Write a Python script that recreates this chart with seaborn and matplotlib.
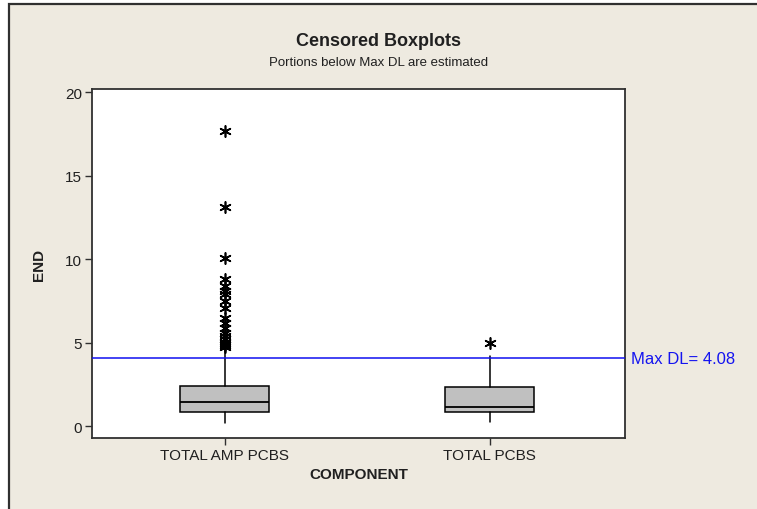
import matplotlib
matplotlib.use("Agg")
import matplotlib.pyplot as plt
import matplotlib.patches as mpatches
import matplotlib.transforms as mtransforms
import seaborn as sns
import pandas as pd

# ---- data ----
categories = ["TOTAL AMP PCBS", "TOTAL PCBS"]
q1 = [0.84, 0.84]
medians = [1.43, 1.13]
q3 = [2.39, 2.33]
whisker_low = [0.22, 0.24]
whisker_high = [4.65, 4.20]
outliers_amp = [17.7, 13.15, 10.05, 8.8, 8.4, 8.1, 7.9, 7.5, 7.1, 6.5, 6.2,
                5.9, 5.6, 5.4, 5.2, 5.0, 4.85, 4.75]
outliers_pcbs = [5.0]
max_dl = 4.08
y_ticks = [0, 5, 10, 15, 20]

sns.set_theme(style="white")
plt.rcParams['font.family'] = ['Liberation Sans', 'DejaVu Sans']

W, H = 757, 510
fig = plt.figure(figsize=(W / 100, H / 100), dpi=100, facecolor="white")

# beige panel with dark border (left/top visible)
bx, by = 9 / W, 1 - 5 / H
panel = mpatches.Rectangle((bx, -0.5), 2, by + 0.5, transform=fig.transFigure,
                           facecolor="#EEEAE0", edgecolor="#303030", lw=1.6,
                           zorder=-10)
fig.patches.append(panel)

ax = fig.add_axes([92 / W, 1 - 439 / H, (625 - 92) / W, (439 - 90) / H])
ax.set_facecolor("white")

# outliers
out_df = pd.DataFrame({
    "COMPONENT": [categories[0]] * len(outliers_amp) + [categories[1]] * len(outliers_pcbs),
    "END": outliers_amp + outliers_pcbs,
})
sns.stripplot(data=out_df, x="COMPONENT", y="END", order=categories, jitter=False,
              marker=(6, 2, 0), color="black", size=8, linewidth=1.2, ax=ax,
              zorder=4)

# boxes
stats = []
for i, c in enumerate(categories):
    stats.append(dict(label=c, q1=q1[i], med=medians[i], q3=q3[i],
                      whislo=whisker_low[i], whishi=whisker_high[i], fliers=[]))
ax.bxp(stats, positions=range(len(categories)), widths=0.335, patch_artist=True,
       showfliers=False, showcaps=False,
       boxprops=dict(facecolor="#C0C0C0", edgecolor="black", linewidth=1.1),
       medianprops=dict(color="black", linewidth=1.3),
       whiskerprops=dict(color="black", linewidth=1.1), manage_ticks=False)

# Max DL reference line
ax.axhline(max_dl, color="#1010F0", lw=1.1, zorder=3)
trans = mtransforms.blended_transform_factory(ax.transAxes, ax.transData)
ax.text(1.012, max_dl, f"Max DL= {max_dl}", transform=trans, color="#1414F0",
        fontsize=12, va="center", ha="left")

ax.set_xlim(-0.5, 1.51)
ax.set_ylim(-0.7, 20.2)
ax.set_yticks(y_ticks)
ax.set_xticks(range(len(categories)))
ax.set_xticklabels(categories)
ax.tick_params(axis="both", which="both", direction="out", length=5, width=1,
               color="#303030", labelsize=11, labelcolor="#202020", pad=2,
               left=True, bottom=True)
for s in ax.spines.values():
    s.set_visible(True)
    s.set_color("#303030")
    s.set_linewidth(1.3)

ax.set_xlabel("COMPONENT", fontsize=11, fontweight="bold", color="#202020", labelpad=4)
ax.set_ylabel("END", fontsize=11, fontweight="bold", color="#202020", labelpad=14)

fig.text(0.5, 1 - 41 / H, "Censored Boxplots", ha="center", va="center",
         fontsize=13, fontweight="bold", color="#202020")
fig.text(0.5, 1 - 63 / H, "Portions below Max DL are estimated", ha="center",
         va="center", fontsize=9.5, color="#202020")

fig.savefig("out.png", dpi=100, facecolor="white")
